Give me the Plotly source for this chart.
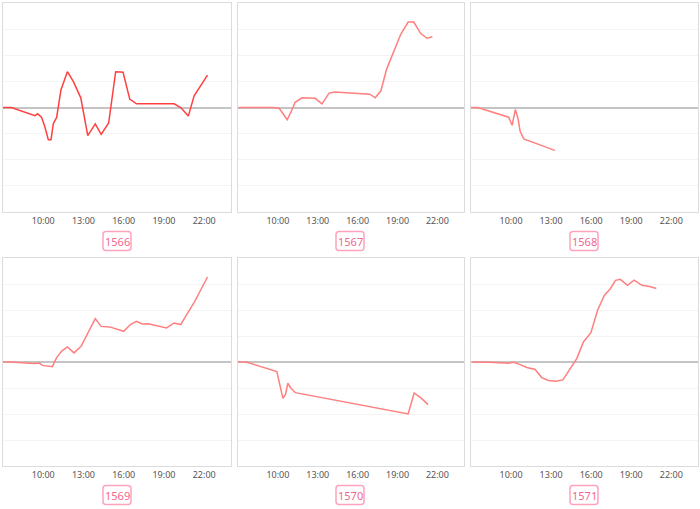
import plotly.graph_objects as go

W, H = 700, 509

# ---- data (hours of day, value) ----
ids = ["1566", "1567", "1568", "1569", "1570", "1571"]

t1566 = [7.0, 7.62, 9.38, 9.58, 9.88, 10.12, 10.38, 10.58, 10.75, 11.0, 11.32, 11.8, 12.25, 12.8, 13.32, 13.88, 14.32, 14.88, 15.4, 15.95, 16.45, 16.95, 19.75, 20.25, 20.82, 21.25, 22.25]
v1566 = [0, 0, -0.31, -0.24, -0.38, -0.74, -1.23, -1.23, -0.62, -0.38, 0.67, 1.37, 0.99, 0.37, -1.08, -0.63, -1.03, -0.59, 1.37, 1.35, 0.32, 0.14, 0.14, 0, -0.33, 0.45, 1.24]

t1567 = [7.05, 9.6, 10.1, 10.4, 10.7, 10.98, 11.3, 11.8, 12.8, 13.32, 13.85, 14.3, 16.92, 17.32, 17.75, 18.18, 18.68, 19.25, 19.8, 20.22, 20.75, 21.22, 21.62]
v1567 = [0, 0, -0.03, -0.24, -0.47, -0.18, 0.2, 0.37, 0.35, 0.14, 0.55, 0.59, 0.51, 0.37, 0.64, 1.47, 2.08, 2.81, 3.27, 3.27, 2.83, 2.65, 2.71]

t1568 = [7.0, 7.5, 9.82, 10.08, 10.32, 10.52, 10.68, 10.95, 13.28]
v1568 = [0, 0, -0.37, -0.68, -0.08, -0.42, -0.91, -1.2, -1.64]

t1569 = [7.0, 7.5, 9.38, 9.7, 9.95, 10.68, 11.0, 11.38, 11.8, 12.3, 12.82, 13.38, 13.88, 14.32, 14.95, 16.0, 16.5, 16.95, 17.38, 17.82, 19.2, 19.75, 20.25, 20.75, 21.3, 21.75, 22.25]
v1569 = [0, 0, -0.06, -0.04, -0.13, -0.18, 0.17, 0.42, 0.58, 0.35, 0.6, 1.15, 1.67, 1.37, 1.35, 1.18, 1.44, 1.56, 1.46, 1.47, 1.31, 1.5, 1.44, 1.87, 2.33, 2.78, 3.27]

t1570 = [7.0, 7.62, 9.92, 10.38, 10.58, 10.75, 10.95, 11.32, 19.8, 20.25, 20.8, 21.3]
v1570 = [0, 0, -0.37, -1.4, -1.24, -0.81, -0.99, -1.18, -2.0, -1.19, -1.4, -1.64]

t1571 = [7.1, 8.42, 9.8, 10.18, 10.68, 11.18, 11.8, 12.3, 12.8, 13.38, 13.88, 14.38, 14.92, 15.42, 15.98, 16.48, 16.98, 17.42, 17.82, 18.18, 18.72, 19.22, 19.8, 20.38, 20.88]
v1571 = [0, -0.01, -0.05, -0.01, -0.1, -0.21, -0.29, -0.6, -0.71, -0.74, -0.69, -0.32, 0.13, 0.77, 1.13, 1.99, 2.56, 2.81, 3.14, 3.18, 2.95, 3.15, 2.95, 2.9, 2.83]

series_t = [t1566, t1567, t1568, t1569, t1570, t1571]
series_v = [v1566, v1567, v1568, v1569, v1570, v1571]

tick_vals = [10, 13, 16, 19, 22]
tick_text = ["10:00", "13:00", "16:00", "19:00", "22:00"]

# ---- layout geometry (pixels) ----
col_x = [(3, 231), (238, 464), (471, 698)]
row_y = [(3, 212), (258, 466)]
label_cx = [117, 350, 584]
label_cy = [241, 495]
line_colors = ["#ff4040", "#ff7f7f", "#ff7f7f", "#ff7f7f", "#ff7f7f", "#ff7f7f"]

fig = go.Figure()
layout = dict(
    width=W, height=H, margin=dict(l=0, r=0, t=0, b=0),
    paper_bgcolor="white", plot_bgcolor="white", showlegend=False,
    font=dict(family="Noto Sans, sans-serif"),
)
shapes = []
annotations = []

def px_x(x):
    return x / W

def px_y(y):
    return 1 - y / H

def rounded_rect(x0, y0, x1, y1, r):
    def P(x, y):
        return f"{px_x(x):.5f},{px_y(y):.5f}"
    return (f"M {P(x0 + r, y0)} L {P(x1 - r, y0)} Q {P(x1, y0)} {P(x1, y0 + r)} "
            f"L {P(x1, y1 - r)} Q {P(x1, y1)} {P(x1 - r, y1)} L {P(x0 + r, y1)} "
            f"Q {P(x0, y1)} {P(x0, y1 - r)} L {P(x0, y0 + r)} Q {P(x0, y0)} {P(x0 + r, y0)} Z")

for i in range(6):
    r, c = divmod(i, 3)
    n = i + 1
    xa = "x" if n == 1 else f"x{n}"
    ya = "y" if n == 1 else f"y{n}"
    fig.add_trace(go.Scatter(x=series_t[i], y=series_v[i], mode="lines",
                             line=dict(color=line_colors[i], width=1.5),
                             xaxis=xa, yaxis=ya, hoverinfo="skip"))
    x0, x1 = col_x[c]
    y0, y1 = row_y[r]
    layout["xaxis" if n == 1 else f"xaxis{n}"] = dict(
        domain=[px_x(x0), px_x(x1)], anchor=ya, range=[7, 24],
        tickvals=tick_vals, ticktext=tick_text, showgrid=False, zeroline=False,
        showline=True, linecolor="#dcdcdc", linewidth=1, mirror=True,
        ticks="", tickfont=dict(size=9, color="#555555"), fixedrange=True)
    layout["yaxis" if n == 1 else f"yaxis{n}"] = dict(
        domain=[px_y(y1), px_y(y0)], anchor=xa, range=[-4, 4], dtick=1,
        showticklabels=False, showgrid=True, gridcolor="#f4f4f4", gridwidth=1,
        zeroline=True, zerolinecolor="#c4c4c4", zerolinewidth=2,
        showline=True, linecolor="#dcdcdc", linewidth=1, mirror=True,
        ticks="", fixedrange=True)
    cx, cy = label_cx[c], label_cy[r]
    bw, bh = 28, 19
    shapes.append(dict(type="path", xref="paper", yref="paper",
                       path=rounded_rect(cx - bw / 2, cy - bh / 2, cx + bw / 2, cy + bh / 2, 3),
                       line=dict(color="#ffa3bd", width=1.5), fillcolor="white"))
    annotations.append(dict(text=ids[i], x=px_x(cx), y=px_y(cy), xref="paper", yref="paper",
                            showarrow=False, xanchor="center", yanchor="middle",
                            font=dict(size=11, color="#f2678e", family="Noto Sans, sans-serif")))

layout["shapes"] = shapes
layout["annotations"] = annotations
fig.update_layout(**layout)
fig.write_html("out.html", config={"displayModeBar": False},
               post_script="document.body.style.margin='0';document.body.style.overflow='hidden';")
